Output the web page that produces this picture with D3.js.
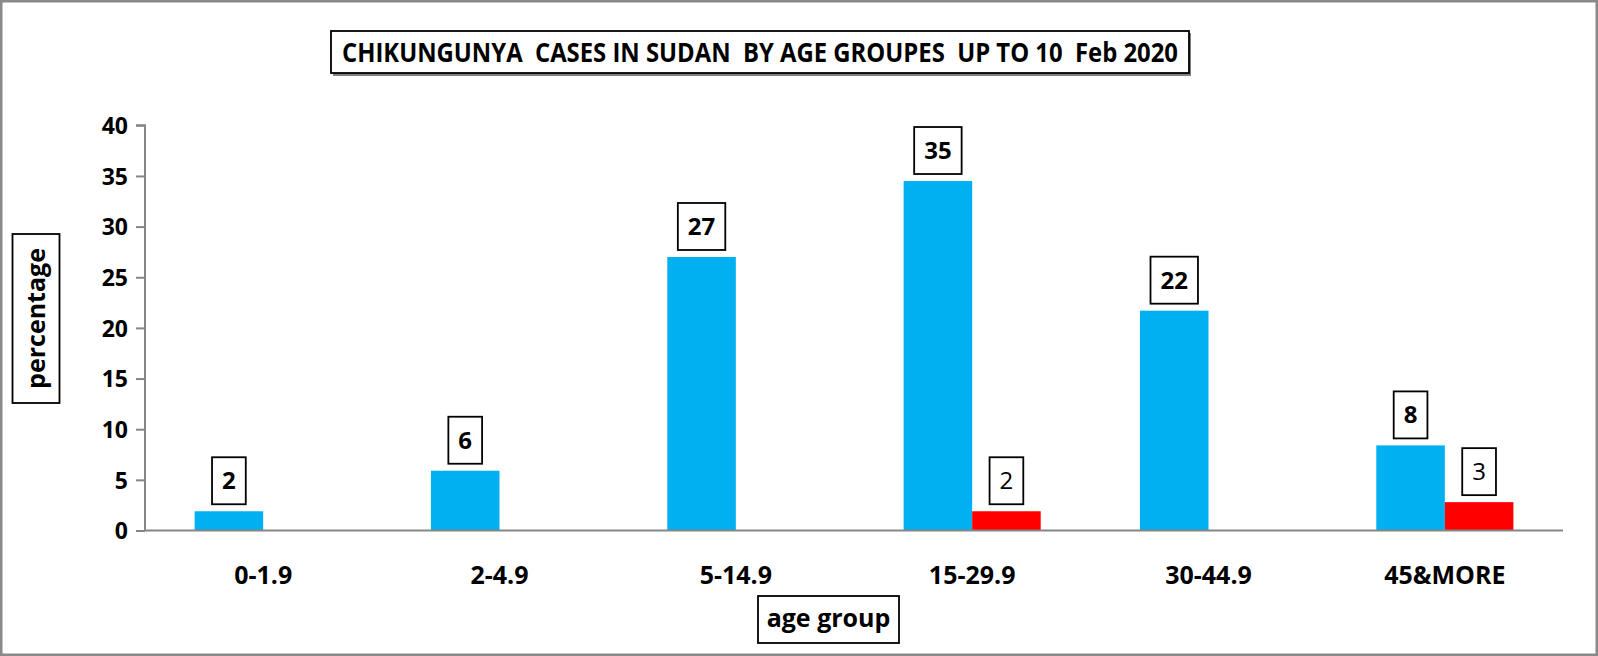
<!DOCTYPE html>
<html>
<head>
<meta charset="utf-8">
<script src="https://cdn.jsdelivr.net/npm/d3@7"></script>
<style>
  html, body { margin: 0; padding: 0; background: #fff; }
  svg { display: block; }
  text { font-family: "Open Sans", "Noto Sans", sans-serif; }
</style>
</head>
<body>
<svg id="chart" width="1598" height="656"></svg>
<script>
const categories = ["0-1.9", "2-4.9", "5-14.9", "15-29.9", "30-44.9", "45&MORE"];
const blueValues = [1.9, 5.9, 27.0, 34.5, 21.7, 8.4];
const redValues  = [0, 0, 0, 1.9, 0, 2.8];
const yTicks = [0, 5, 10, 15, 20, 25, 30, 35, 40];
const titleText = "CHIKUNGUNYA  CASES IN SUDAN  BY AGE GROUPES  UP TO 10  Feb 2020";
const xTitle = "age group";
const yTitle = "percentage";

const svg = d3.select("#chart");
const W = 1598, H = 656;

// outer border
svg.append("rect").attr("x", 1.25).attr("y", 1.25).attr("width", W - 2.5).attr("height", H - 2.5)
  .attr("fill", "#fff").attr("stroke", "#898989").attr("stroke-width", 2.5);

const pLeft = 145, pRight = 1563, pTop = 125.3, pBottom = 530.5;

const x = d3.scaleBand().domain(categories).range([pLeft, pRight]).paddingInner(0.42).paddingOuter(0.21);
const sub = d3.scaleBand().domain(["blue", "red"]).range([0, x.bandwidth()]);
const y = d3.scaleLinear().domain([0, 40]).range([pBottom, pTop]);

const rows = categories.map((c, i) => ({ cat: c, blue: blueValues[i], red: redValues[i] }));

// bars
const g = svg.append("g");
rows.forEach(r => {
  [["blue", r.blue, "#00B0F0"], ["red", r.red, "#FF0000"]].forEach(([k, v, col]) => {
    if (v <= 0) return;
    g.append("rect")
      .attr("x", x(r.cat) + sub(k))
      .attr("y", y(v))
      .attr("width", sub.bandwidth())
      .attr("height", y(0) - y(v))
      .attr("fill", col);
  });
});

// axes
const yAxis = d3.axisLeft(y).tickValues(yTicks).tickSize(9).tickPadding(8);
const ya = svg.append("g").attr("transform", `translate(${pLeft},0)`).call(yAxis);
ya.select(".domain").attr("stroke", "#868686").attr("stroke-width", 2).attr("d", `M-9,${pTop}H0V${pBottom}`);
ya.selectAll(".tick line").attr("stroke", "#868686").attr("stroke-width", 2);
ya.selectAll(".tick text").attr("font-family", "Open Sans").attr("font-weight", "bold")
  .attr("font-size", 23).attr("fill", "#000").attr("dy", "0.36em");

const xAxis = d3.axisBottom(x).tickSize(0).tickPadding(0);
const xa = svg.append("g").attr("transform", `translate(0,${pBottom})`).call(xAxis);
xa.select(".domain").attr("stroke", "#868686").attr("stroke-width", 2).attr("d", `M${pLeft},0H${pRight}`);
xa.selectAll(".tick text").attr("font-family", "Open Sans").attr("font-weight", "bold")
  .attr("font-size", 25).attr("fill", "#000").attr("dy", null).attr("y", 53);

// data labels
function labelBox(cx, barTop, txt, bold) {
  const lg = svg.append("g");
  const t = lg.append("text").attr("x", cx).attr("text-anchor", "middle")
    .attr("font-size", 24).attr("font-weight", bold ? "bold" : "normal").attr("fill", "#000").text(txt);
  const w = t.node().getComputedTextLength() + 20;
  const h = 47;
  const by = barTop - 7 - h;
  t.attr("y", by + h / 2 + 8.5);
  lg.insert("rect", "text").attr("x", cx - w / 2).attr("y", by).attr("width", w).attr("height", h)
    .attr("fill", "#fff").attr("stroke", "#000").attr("stroke-width", 1.8);
}
rows.forEach(r => {
  if (r.blue > 0) labelBox(x(r.cat) + sub("blue") + sub.bandwidth() / 2, y(r.blue), String(Math.round(r.blue)), true);
  if (r.red > 0) labelBox(x(r.cat) + sub("red") + sub.bandwidth() / 2, y(r.red), String(Math.round(r.red)), false);
});

// title
svg.append("rect").attr("x", 333).attr("y", 33).attr("width", 858).attr("height", 43).attr("fill", "#7f7f7f");
svg.append("rect").attr("x", 331).attr("y", 31).attr("width", 858).attr("height", 42)
  .attr("fill", "#fff").attr("stroke", "#000").attr("stroke-width", 1.8);
svg.append("text").attr("x", 760).attr("y", 62).attr("text-anchor", "middle")
  .style("white-space", "pre").attr("xml:space", "preserve")
  .attr("font-size", 26).attr("font-weight", "bold").attr("fill", "#000")
  .attr("textLength", 836).attr("lengthAdjust", "spacingAndGlyphs").text(titleText);

// y title
svg.append("rect").attr("x", 12.5).attr("y", 234).attr("width", 47).attr("height", 169)
  .attr("fill", "#fff").attr("stroke", "#000").attr("stroke-width", 1.8);
svg.append("text").attr("transform", "translate(45,318.5) rotate(-90)").attr("text-anchor", "middle")
  .attr("font-size", 25).attr("font-weight", "bold").attr("fill", "#000").text(yTitle);

// x title
svg.append("rect").attr("x", 758).attr("y", 596).attr("width", 141).attr("height", 47)
  .attr("fill", "#fff").attr("stroke", "#000").attr("stroke-width", 1.8);
svg.append("text").attr("x", 828.5).attr("y", 627).attr("text-anchor", "middle")
  .attr("font-size", 25).attr("font-weight", "bold").attr("fill", "#000").text(xTitle);
</script>
</body>
</html>
